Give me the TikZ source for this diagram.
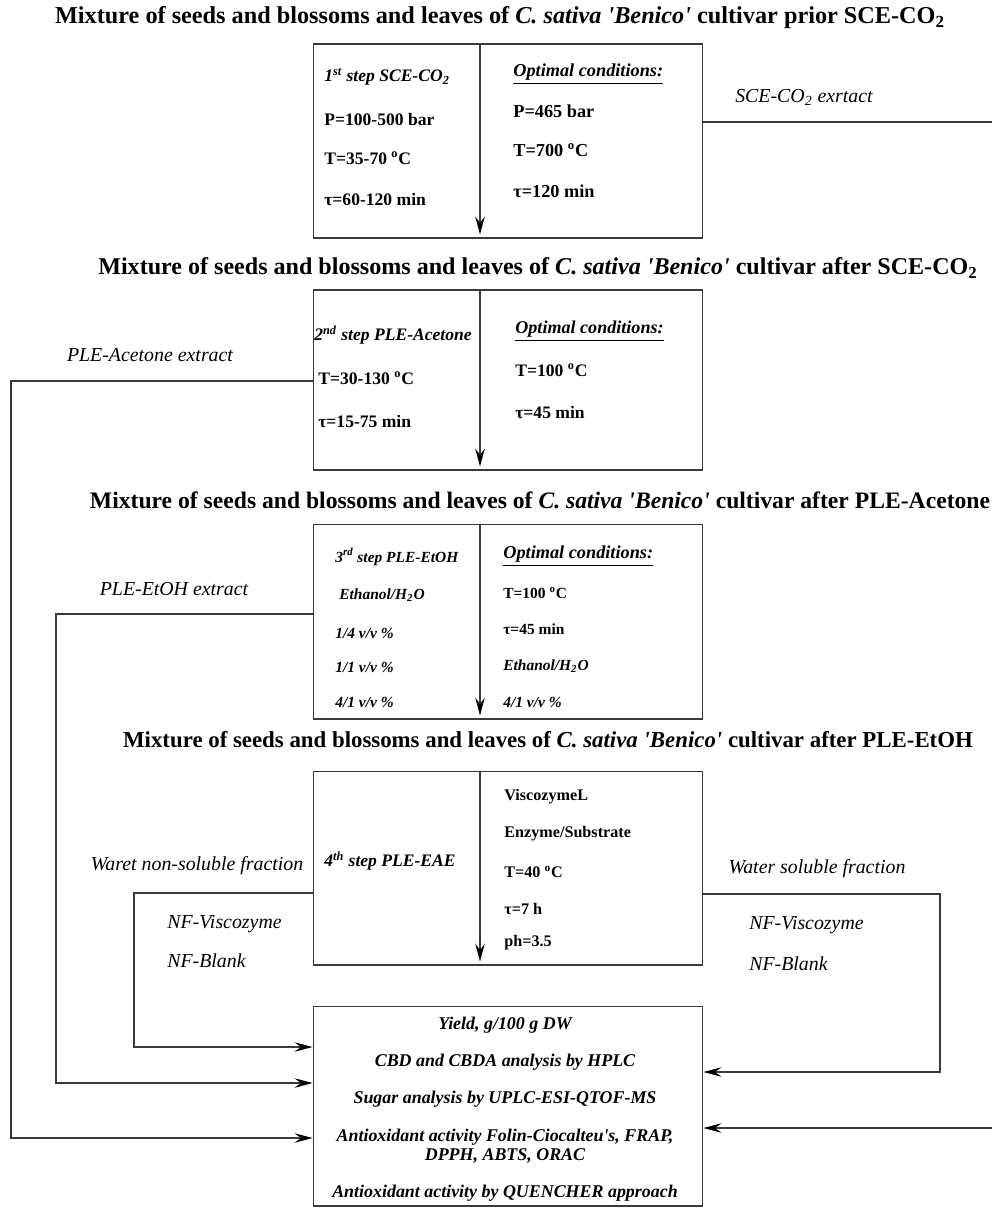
\documentclass[tikz,border=0pt]{standalone}
\usepackage{fontspec}
\setmainfont{Liberation Serif}
\usetikzlibrary{arrows.meta}
\definecolor{darkline}{HTML}{3A3A3A}
\tikzset{
  stepbox/.style={rectangle, draw=darkline, line width=0.6pt, minimum width=7.8cm},
  heading/.style={font=\fontsize{#1}{16}\selectfont\bfseries, inner sep=0pt},
  cond/.style={anchor=west, inner sep=0pt, font=\fontsize{#1}{12}\selectfont\bfseries},
  cond/.default=10,
  condit/.style={anchor=west, inner sep=0pt, font=\fontsize{#1}{12}\selectfont\bfseries\itshape},
  condit/.default=10,
  result/.style={inner sep=0pt, align=center, font=\fontsize{10.2}{10.8}\selectfont\bfseries\itshape},
  extract/.style={inner sep=0pt, font=\fontsize{11.3}{13}\selectfont\itshape},
  wire/.style={line width=0.6pt, draw=darkline},
  flow/.style={wire, -{Stealth[length=3.6mm, width=1.9mm, inset=1.3mm, black]}}
}
\newcommand{\benico}{\textit{C. sativa \textquotesingle Benico\textquotesingle}}
\newcommand{\degC}{\textsuperscript{o}C}

\begin{document}
\begin{tikzpicture}[x=0.02cm, y=-0.02cm]
\useasboundingbox (0,0) rectangle (992,1211);

% headings between the steps
\node[heading=13.8] (mix1) at (500,18) {Mixture of seeds and blossoms and leaves of \benico{} cultivar prior SCE-CO\textsubscript{2}};
\node[heading=13.7] (mix2) at (538,268) {Mixture of seeds and blossoms and leaves of \benico{} cultivar after SCE-CO\textsubscript{2}};
\node[heading=13.45] (mix3) at (540,500) {Mixture of seeds and blossoms and leaves of \benico{} cultivar after PLE-Acetone};
\node[heading=13] (mix4) at (548,740) {Mixture of seeds and blossoms and leaves of \benico{} cultivar after PLE-EtOH};

% step boxes
\node[stepbox, minimum height=3.88cm] (box1) at (508,141) {};
\node[stepbox, minimum height=3.6cm] (box2) at (508,380) {};
\node[stepbox, minimum height=3.9cm] (box3) at (508,621.5) {};
\node[stepbox, minimum height=3.88cm] (box4) at (508,868) {};
\node[stepbox, minimum height=4cm] (box5) at (508,1106) {};

\coordinate (mid) at (480,0);
\foreach \b in {box1,box2,box3,box4}{
  \draw[flow, shorten >=0.08cm] (\b.north -| mid) -- (\b.south -| mid);
}

% 1st step
\node[condit] (s1) at (324,77) {1\textsuperscript{st} step SCE-CO\textsubscript{2}};
\node[cond] (s1p) at (324,119) {P=100-500 bar};
\node[cond] (s1t) at (324,158) {T=35-70 \degC};
\node[cond] (s1tau) at (324,199) {τ=60-120 min};
\node[condit=10.4] (o1) at (513,74) {\underline{Optimal conditions:}};
\node[cond=10.4] (o1p) at (513,111) {P=465 bar};
\node[cond=10.4] (o1t) at (513,150) {T=700 \degC};
\node[cond=10.4] (o1tau) at (513,191) {τ=120 min};

% 2nd step
\node[condit] (s2) at (314,335) {2\textsuperscript{nd} step PLE-Acetone};
\node[cond] (s2t) at (318,378) {T=30-130 \degC};
\node[cond] (s2tau) at (318,421) {τ=15-75 min};
\node[condit=10.3] (o2) at (515,331) {\underline{Optimal conditions:}};
\node[cond] (o2t) at (515,370) {T=100 \degC};
\node[cond] (o2tau) at (515,412) {τ=45 min};

% 3rd step
\node[condit=8.8] (s3) at (335,557) {3\textsuperscript{rd} step PLE-EtOH};
\node[condit=8.8] (s3e) at (339,595) {Ethanol/H\textsubscript{2}O};
\node[condit=8.8] (s3a) at (335,633) {1/4 v/v \%};
\node[condit=8.8] (s3b) at (335,667) {1/1 v/v \%};
\node[condit=8.8] (s3c) at (335,702) {4/1 v/v \%};
\node[condit=10.4] (o3) at (503,556) {\underline{Optimal conditions:}};
\node[cond=8.8] (o3t) at (503,593) {T=100 \degC};
\node[cond=8.8] (o3tau) at (503,629) {τ=45 min};
\node[condit=8.8] (o3e) at (503,666) {Ethanol/H\textsubscript{2}O};
\node[condit=8.8] (o3c) at (503,702) {4/1 v/v \%};

% 4th step
\node[condit] (s4) at (324,861) {4\textsuperscript{th} step PLE-EAE};
\node[cond=9.2] (o4a) at (504,797) {ViscozymeL};
\node[cond=9.2] (o4b) at (504,834) {Enzyme/Substrate};
\node[cond=9.2] (o4t) at (504,872) {T=40 \degC};
\node[cond=9.2] (o4tau) at (504,909) {τ=7 h};
\node[cond=9.2] (o4ph) at (504,943) {ph=3.5};

% analyses
\node[result] (r1) at (505,1025) {Yield, g/100 g DW};
\node[result] (r2) at (505,1062) {CBD and CBDA analysis by HPLC};
\node[result] (r3) at (505,1099) {Sugar analysis by UPLC-ESI-QTOF-MS};
\node[result] (r4) at (505,1146.5) {Antioxidant activity Folin-Ciocalteu\textquotesingle s, FRAP,\\DPPH, ABTS, ORAC};
\node[result] (r5) at (505,1193) {Antioxidant activity by QUENCHER approach};

% extracts
\node[extract] (sce) at (804,97) {SCE-CO\textsubscript{2} exrtact};
\coordinate (sceOut) at (992,122);
\draw[wire] (box1.east |- sceOut) -- (sceOut);
\coordinate (sceIn) at (992,1128);
\draw[flow] (sceIn) -- (box5.east |- sceIn);

\node[extract] (ace) at (150,355) {PLE-Acetone extract};
\coordinate (aceA) at (11,381);
\coordinate (aceB) at (11,1138);
\draw[flow] (box2.west |- aceA) -- (aceA) -- (aceB) -- (box5.west |- aceB);

\node[extract] (etoh) at (174,589) {PLE-EtOH extract};
\coordinate (etohA) at (56,614);
\coordinate (etohB) at (56,1083);
\draw[flow] (box3.west |- etohA) -- (etohA) -- (etohB) -- (box5.west |- etohB);

\node[extract] (nsol) at (197,866) {Waret non-soluble fraction};
\node[extract, anchor=west] (nsolv) at (167,924) {NF-Viscozyme};
\node[extract, anchor=west] (nsolb) at (167,961) {NF-Blank};
\coordinate (nsolA) at (134,893);
\coordinate (nsolB) at (134,1047);
\draw[flow] (box4.west |- nsolA) -- (nsolA) -- (nsolB) -- (box5.west |- nsolB);

\node[extract] (sol) at (817,869) {Water soluble fraction};
\node[extract, anchor=west] (solv) at (749,925) {NF-Viscozyme};
\node[extract, anchor=west] (solb) at (749,964) {NF-Blank};
\coordinate (solA) at (940,894);
\coordinate (solB) at (940,1072);
\draw[flow] (box4.east |- solA) -- (solA) -- (solB) -- (box5.east |- solB);

\end{tikzpicture}
\end{document}
